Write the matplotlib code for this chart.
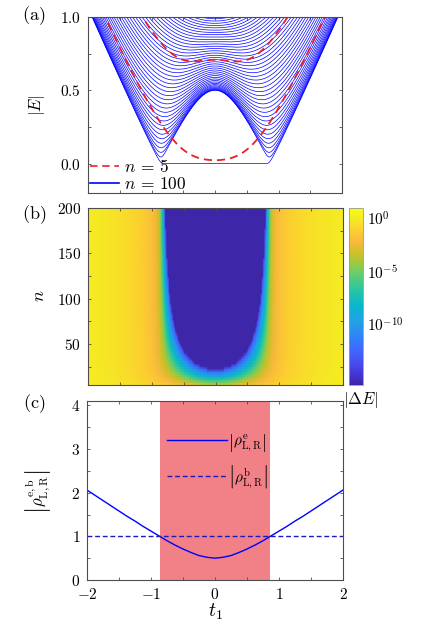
import numpy as np
import matplotlib
matplotlib.use("Agg")
import matplotlib.pyplot as plt
from matplotlib.colors import LinearSegmentedColormap, LogNorm
from matplotlib.ticker import MultipleLocator, FuncFormatter

plt.rcParams["mathtext.fontset"] = "cm"
plt.rcParams["font.family"] = ["DejaVu Serif"]

# ---------------- model / data ----------------
T1_LIMITS = [-2.0, 2.0]
HOP_INTER = 1.0            # inter-cell hopping t2
HOP_IMAG = 0.5             # imaginary part of intra-cell hopping
SIZES_A = [5, 100]         # chain sizes shown in panel (a)
SIZE_LABELS_A = [r"$n\,=\,5$", r"$n\,=\,100$"]
SIZE_MIN_B = 5
SIZE_MAX_B = 200
SIZE_STEP_B = 3
DE_LIMITS = [10 ** -15.7, 10 ** 1.0]
DE_FLOOR = 10 ** -13.5     # numerical floor seen in the picture
CBAR_TICKS = [1e-10, 1e-5, 1e0]
CBAR_LABELS = [r"$10^{-10}$", r"$10^{-5}$", r"$10^{0}$"]

# panel (c): values
RHO_T1 = [-2.0, -1.875, -1.75, -1.625, -1.5, -1.375, -1.25, -1.125, -1.0,
          -0.875, -0.75, -0.625, -0.5, -0.375, -0.25, -0.125, 0.0,
          0.125, 0.25, 0.375, 0.5, 0.625, 0.75, 0.875, 1.0,
          1.125, 1.25, 1.375, 1.5, 1.625, 1.75, 1.875, 2.0]
RHO_E = [2.06, 1.94, 1.82, 1.70, 1.58, 1.46, 1.35, 1.23, 1.12,
         1.01, 0.90, 0.80, 0.71, 0.63, 0.56, 0.52, 0.50,
         0.52, 0.56, 0.63, 0.71, 0.80, 0.90, 1.01, 1.12,
         1.23, 1.35, 1.46, 1.58, 1.70, 1.82, 1.94, 2.06]
RHO_B = [1.0] * len(RHO_T1)
TOPO_REGION = [-0.866, 0.866]

# MATLAB parula (subset of the 64-entry table)
PARULA = [(0.2422, 0.1504, 0.6603), (0.2706, 0.2147, 0.8364), (0.2813, 0.3006, 0.9414),
          (0.2699, 0.3892, 0.9906), (0.1963, 0.4847, 0.9892), (0.1687, 0.5703, 0.9359),
          (0.1248, 0.6459, 0.8883), (0.0297, 0.7082, 0.8163), (0.0964, 0.7500, 0.7120),
          (0.2161, 0.7843, 0.5923), (0.3909, 0.8029, 0.4354), (0.6174, 0.7876, 0.2612),
          (0.8203, 0.7498, 0.1535), (0.9728, 0.7298, 0.2394), (0.9892, 0.8136, 0.1885),
          (0.9597, 0.9135, 0.1423), (0.9769, 0.9839, 0.0805)]
parula = LinearSegmentedColormap.from_list("parula", PARULA)


def chain_singular_values(t1_vals, n):
    """|E| levels of an open chain with n cells (singular values of the hopping block)."""
    t1_vals = np.asarray(t1_vals, dtype=float)
    v = np.hypot(t1_vals, HOP_IMAG)
    q = np.zeros((len(t1_vals), n, n))
    idx = np.arange(n)
    q[:, idx, idx] = v[:, None]
    q[:, idx[1:], idx[:-1]] = HOP_INTER
    return np.linalg.svd(q, compute_uv=False)


W, H = 436, 630
fig = plt.figure(figsize=(W / 100, H / 100), dpi=100)


def box(l, t, r, b):
    return [l / W, 1 - b / H, (r - l) / W, (b - t) / H]


AX_COLOR = "0.3"


def style(ax):
    for sp in ax.spines.values():
        sp.set_color(AX_COLOR)
        sp.set_linewidth(0.8)
    ax.tick_params(which="both", direction="in", top=True, right=True,
                   color=AX_COLOR, labelsize=11, length=2.5, width=0.6, pad=5)


# ---------------- panel (a) ----------------
axa = fig.add_axes(box(88, 17, 342, 193))
t1a = np.linspace(T1_LIMITS[0], T1_LIMITS[1], 801)
lev100 = chain_singular_values(t1a, SIZES_A[1])
lev5 = chain_singular_values(t1a, SIZES_A[0])
lines100 = axa.plot(t1a, lev100, color="blue", lw=0.5)
lines5 = axa.plot(t1a, lev5, color=(0.92, 0.12, 0.15), lw=1.3, dashes=(4.5, 2.8))
axa.set_xlim(T1_LIMITS)
axa.set_ylim(-0.2, 1.0)
axa.xaxis.set_major_locator(MultipleLocator(0.5))
axa.xaxis.set_major_formatter(FuncFormatter(lambda x, p: ""))
axa.yaxis.set_major_locator(MultipleLocator(0.5))
axa.yaxis.set_minor_locator(MultipleLocator(0.25))
axa.yaxis.set_major_formatter(FuncFormatter(lambda y, p: rf"${y:.1f}$"))
style(axa)
axa.legend([lines5[0], lines100[0]], SIZE_LABELS_A, loc="lower left", frameon=False,
           fontsize=12.5, handlelength=1.7, handletextpad=0.3, labelspacing=0.0,
           borderaxespad=0.0, borderpad=0.1, bbox_to_anchor=(0.0, -0.01))
for h in axa.get_legend().get_lines():
    h.set_linewidth(1.2)

# ---------------- panel (b) ----------------
axb = fig.add_axes(box(88, 208, 343, 385))
t1_half = np.linspace(0.0, T1_LIMITS[1], 101)
sizes_b = np.arange(SIZE_MIN_B, SIZE_MAX_B + 1, SIZE_STEP_B)
rows = []
for n in sizes_b:
    s = chain_singular_values(t1_half, int(n))
    rows.append(s[:, -1] ** 2)
half = np.array(rows)
t1b = np.concatenate([-t1_half[::-1], t1_half[1:]])
dE = np.abs(np.concatenate([half[:, ::-1], half[:, 1:]], axis=1))
dE[dE < DE_FLOOR] = DE_LIMITS[0]
dE = np.clip(dE, DE_LIMITS[0], DE_LIMITS[1])
T1B, NB = np.meshgrid(t1b, sizes_b)
mesh = axb.pcolormesh(T1B, NB, dE, shading="gouraud", cmap=parula,
                      norm=LogNorm(vmin=DE_LIMITS[0], vmax=DE_LIMITS[1]), rasterized=True)
axb.set_xlim(T1_LIMITS)
axb.set_ylim(SIZE_MIN_B, SIZE_MAX_B)
axb.xaxis.set_major_locator(MultipleLocator(0.5))
axb.xaxis.set_major_formatter(FuncFormatter(lambda x, p: ""))
axb.yaxis.set_major_locator(MultipleLocator(50))
axb.yaxis.set_minor_locator(MultipleLocator(25))
axb.yaxis.set_major_formatter(FuncFormatter(lambda y, p: rf"${int(round(y))}$"))
style(axb)

cax = fig.add_axes(box(349, 208, 363, 385))
cb = fig.colorbar(mesh, cax=cax)
cb.set_ticks(CBAR_TICKS)
cb.set_ticklabels(CBAR_LABELS)
cb.ax.minorticks_off()
cb.ax.tick_params(length=0, labelsize=11, pad=3)
cb.outline.set_edgecolor("0.6")
cb.outline.set_linewidth(0.6)
fig.text(343 / W, 1 - 400 / H, r"$|\Delta E|$", fontsize=12, ha="left", va="center")

# ---------------- panel (c) ----------------
axc = fig.add_axes(box(87, 401, 343, 580))
axc.axvspan(TOPO_REGION[0], TOPO_REGION[1], color=(0.95, 0.50, 0.53), lw=0)
le, = axc.plot(RHO_T1, RHO_E, color="blue", lw=1.0)
lb, = axc.plot(RHO_T1, RHO_B, color=(0.1, 0.1, 0.75), lw=1.0, dashes=(3.5, 2))
axc.set_xlim(T1_LIMITS)
axc.set_ylim(0, 4.1)
axc.xaxis.set_major_locator(MultipleLocator(1))
axc.xaxis.set_minor_locator(MultipleLocator(0.5))
axc.yaxis.set_major_locator(MultipleLocator(1))
axc.yaxis.set_minor_locator(MultipleLocator(0.5))
fmt_int = FuncFormatter(lambda v, p: rf"${int(round(v))}$")
axc.xaxis.set_major_formatter(fmt_int)
axc.yaxis.set_major_formatter(fmt_int)
style(axc)
axc.legend([le, lb],
           [r"$\left|\rho^{\mathrm{e}}_{\mathrm{L,R}}\right|$",
            r"$\left|\rho^{\mathrm{b}}_{\mathrm{L,R}}\right|$"],
           loc="center", bbox_to_anchor=(218 / W, 1 - 461 / H),
           bbox_transform=fig.transFigure, frameon=False, fontsize=11,
           handlelength=3.9, handletextpad=0.1, labelspacing=0.55)

# ---------------- labels ----------------
fig.text(37 / W, 1 - 105 / H, r"$|E|$", fontsize=12, rotation=90, ha="center", va="center")
fig.text(39 / W, 1 - 296 / H, r"$n$", fontsize=13, rotation=90, ha="center", va="center")
fig.text(38 / W, 1 - 492 / H, r"$\left|\rho^{\mathrm{e,b}}_{\mathrm{L,R}}\right|$",
         fontsize=12, rotation=90, ha="center", va="center")
fig.text(215 / W, 1 - 612 / H, r"$t_1$", fontsize=14, ha="center", va="center")
for lab, y in [("(a)", 16), ("(b)", 215), ("(c)", 404)]:
    fig.text(34 / W, 1 - y / H, rf"$\mathrm{{{lab}}}$", fontsize=13, ha="center", va="center")

fig.savefig("out.png", dpi=100)
